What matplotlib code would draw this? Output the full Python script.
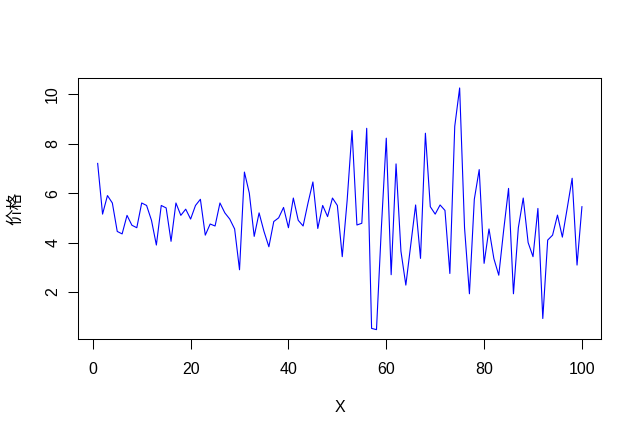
import numpy as np
import matplotlib
matplotlib.use("Agg")
import matplotlib.pyplot as plt

plt.rcParams['font.family'] = ['Liberation Sans', 'Noto Sans CJK SC', 'DejaVu Sans']

x = list(range(1, 101))
price = [7.2, 5.15, 5.9, 5.6, 4.45, 4.35, 5.1, 4.7, 4.6, 5.6,
         5.5, 4.9, 3.9, 5.5, 5.4, 4.05, 5.6, 5.1, 5.35, 4.95,
         5.5, 5.75, 4.3, 4.75, 4.67, 5.6, 5.2, 4.95, 4.55, 2.9,
         6.85, 6.0, 4.25, 5.2, 4.45, 3.83, 4.85, 5.0, 5.42, 4.6,
         5.8, 4.9, 4.67, 5.6, 6.45, 4.57, 5.5, 5.05, 5.8, 5.5,
         3.43, 5.7, 8.53, 4.71, 4.78, 8.62, 0.53, 0.48, 4.6, 8.22,
         2.7, 7.18, 3.65, 2.28, 3.9, 5.52, 3.36, 8.42, 5.45, 5.15,
         5.52, 5.3, 2.75, 8.7, 10.25, 4.6, 1.93, 5.75, 6.95, 3.16,
         4.55, 3.35, 2.68, 4.5, 6.19, 1.93, 4.6, 5.8, 4.0, 3.43,
         5.38, 0.93, 4.1, 4.3, 5.11, 4.22, 5.4, 6.6, 3.09, 5.45]
xticks = [0, 20, 40, 60, 80, 100]
yticks = [2, 4, 6, 8, 10]

W, H = 639, 437
fig = plt.figure(figsize=(W / 100, H / 100), dpi=100)
ax = fig.add_axes([78.3 / W, 1 - 339.3 / H, (601.3 - 78.3) / W, (339.3 - 78.3) / H])
ax.plot(x, price, color='#0000FF', lw=0.8)

xr = max(x) - min(x)
ax.set_xlim(min(x) - 0.04 * xr, max(x) + 0.04 * xr)
yr = max(price) - min(price)
ax.set_ylim(min(price) - 0.04 * yr, max(price) + 0.04 * yr)

ax.set_xticks(xticks)
ax.set_yticks(yticks)
ax.set_yticklabels([str(v) for v in yticks], rotation=90, va='center')
ax.tick_params(axis='both', direction='out', length=7, width=0.75, labelsize=11.5, colors='black')
ax.tick_params(axis='x', pad=9)
ax.tick_params(axis='y', pad=6)
for s in ax.spines.values():
    s.set_linewidth(0.75)
    s.set_color('black')

ax.set_xlabel('X', fontsize=11.5, labelpad=17)
ax.set_ylabel('价格', fontsize=12, labelpad=16)

fig.savefig('out.png', dpi=100)
